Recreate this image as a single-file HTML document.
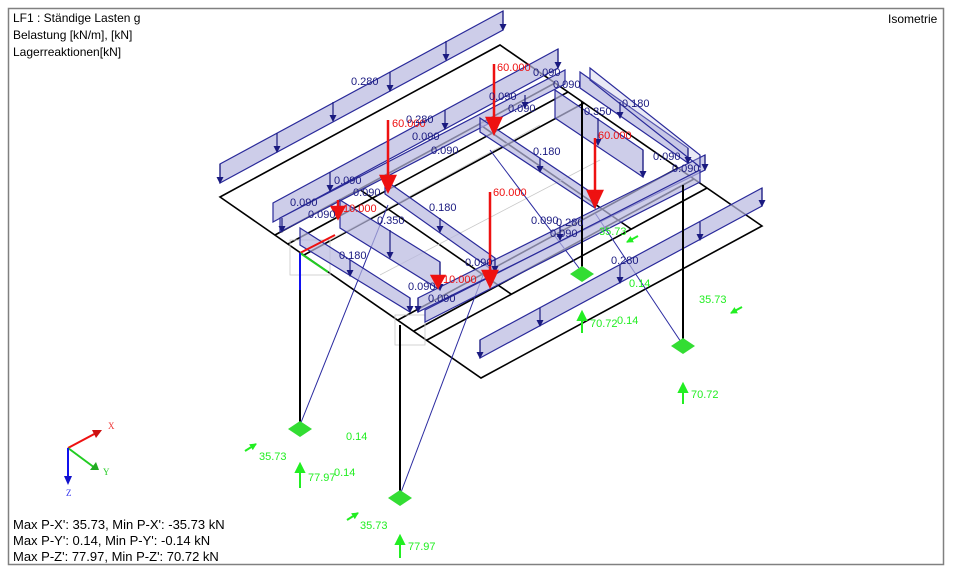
<!DOCTYPE html>
<html><head><meta charset="utf-8"><style>
html,body{margin:0;padding:0;background:#fff;width:956px;height:572px;overflow:hidden}
svg{display:block}
.t{font-family:"Liberation Sans",sans-serif}
</style></head><body>
<svg width="956" height="572" viewBox="0 0 956 572" xmlns="http://www.w3.org/2000/svg">
<defs>
<marker id="ab" markerWidth="7" markerHeight="7" refX="6" refY="3.5" orient="auto" markerUnits="userSpaceOnUse"><path d="M0,0 L7,3.5 L0,7 z" fill="#1a1a80"/></marker>
<marker id="ag" markerWidth="7" markerHeight="7" refX="6" refY="3.5" orient="auto" markerUnits="userSpaceOnUse"><path d="M0,0 L7,3.5 L0,7 z" fill="#22ee22"/></marker>
</defs>
<rect x="0" y="0" width="956" height="572" fill="#fff"/>
<rect x="8.5" y="8.5" width="935" height="556" fill="#fff" stroke="#808080" stroke-width="1.5"/>

<g stroke="#000" stroke-width="1.6" fill="none">
<polygon points="220,197 500,45 762,226 481,378"/>
<line x1="275" y1="235" x2="555" y2="83"/>
<line x1="288" y1="244" x2="568" y2="92"/>
<line x1="304" y1="255" x2="584" y2="103"/>
<line x1="398" y1="320" x2="678" y2="168"/>
<line x1="414" y1="331" x2="694" y2="179"/>
<line x1="427" y1="340" x2="707" y2="188"/>
<line x1="359" y1="189" x2="511" y2="294"/>
<line x1="479" y1="124" x2="631" y2="229"/>
</g>
<g stroke="#c8c8c8" stroke-width="0.8" fill="none">
<line x1="330" y1="240" x2="540" y2="125"/>
<line x1="380" y1="275" x2="600" y2="160"/>
<rect x="290" y="240" width="40" height="35"/>
<rect x="395" y="315" width="30" height="30"/>
</g>

<g stroke="#2a2aa0" stroke-width="1" fill="none">
<line x1="388" y1="205" x2="300" y2="425"/>
<line x1="485" y1="270" x2="400" y2="495"/>
<line x1="490" y1="150" x2="582" y2="272"/>
<line x1="595" y1="213" x2="683" y2="345"/>
</g>

<g fill="#b8b8e0" fill-opacity="0.7" stroke="#2a2a9a" stroke-width="1.2">
<polygon points="220,183 220,164 503,11 503,30"/>
<polygon points="273,222 273,203 558,49 558,68"/>
<polygon points="280,232 280,218 565,70 565,84"/>
<polygon points="580,72 688,148 688,163 580,88"/>
<polygon points="555,90 643,150 643,177 555,118"/>
<polygon points="480,118 595,195 595,208 480,132"/>
<polygon points="385,180 495,258 495,272 385,194"/>
<polygon points="340,200 440,262 440,290 340,228"/>
<polygon points="300,228 410,298 410,312 300,245"/>
<polygon points="418,312 418,298 705,155 705,170"/>
<polygon points="425,322 425,310 700,170 700,182"/>
<polygon points="480,358 480,340 762,188 762,206"/>
<polygon points="590,80 590,68 700,155 700,167" fill-opacity="0.3"/>
</g>
<g stroke="#1a1a80" stroke-width="1.2" marker-end="url(#ab)">
<line x1="220" y1="164" x2="220" y2="183"/><line x1="277" y1="133" x2="277" y2="152"/><line x1="333" y1="102" x2="333" y2="121"/><line x1="390" y1="72" x2="390" y2="91"/><line x1="446" y1="41" x2="446" y2="60"/><line x1="503" y1="11" x2="503" y2="30"/>
<line x1="330" y1="172" x2="330" y2="191"/><line x1="445" y1="110" x2="445" y2="129"/><line x1="558" y1="49" x2="558" y2="68"/>
<line x1="282" y1="218" x2="282" y2="232"/><line x1="525" y1="95" x2="525" y2="108"/>
<line x1="620" y1="102" x2="620" y2="118"/><line x1="688" y1="148" x2="688" y2="163"/>
<line x1="598" y1="118" x2="598" y2="145"/><line x1="643" y1="150" x2="643" y2="177"/>
<line x1="540" y1="158" x2="540" y2="172"/><line x1="595" y1="195" x2="595" y2="208"/>
<line x1="440" y1="218" x2="440" y2="232"/><line x1="495" y1="258" x2="495" y2="272"/>
<line x1="390" y1="230" x2="390" y2="258"/><line x1="440" y1="262" x2="440" y2="290"/>
<line x1="350" y1="260" x2="350" y2="276"/><line x1="410" y1="298" x2="410" y2="312"/>
<line x1="418" y1="298" x2="418" y2="312"/><line x1="560" y1="225" x2="560" y2="240"/><line x1="705" y1="155" x2="705" y2="170"/>
<line x1="480" y1="340" x2="480" y2="358"/><line x1="540" y1="308" x2="540" y2="326"/><line x1="620" y1="265" x2="620" y2="283"/><line x1="700" y1="222" x2="700" y2="240"/><line x1="762" y1="188" x2="762" y2="206"/>
</g>

<g stroke="#000" stroke-width="2">
<line x1="300" y1="255" x2="300" y2="425"/>
<line x1="400" y1="325" x2="400" y2="495"/>
<line x1="582" y1="102" x2="582" y2="272"/>
<line x1="683" y1="185" x2="683" y2="345"/>
</g>
<g fill="#33dd33">
<polygon points="300,421 312,429 300,437 288,429"/>
<polygon points="400,490 412,498 400,506 388,498"/>
<polygon points="582,266 594,274 582,282 570,274"/>
<polygon points="683,338 695,346 683,354 671,346"/>
</g>

<g stroke="#ee1111" stroke-width="2.5" fill="#ee1111">
<line x1="388" y1="120" x2="388" y2="178"/><polygon points="381,176 395,176 388,191"/>
<line x1="494" y1="64" x2="494" y2="120"/><polygon points="487,118 501,118 494,133"/>
<line x1="595" y1="138" x2="595" y2="193"/><polygon points="588,191 602,191 595,206"/>
<line x1="490" y1="192" x2="490" y2="273"/><polygon points="483,271 497,271 490,286"/>
<line x1="338" y1="200" x2="338" y2="208"/><polygon points="332,207 344,207 338,218"/>
<polygon points="432,276 444,276 438,287"/>
</g>
<g class="t" font-size="11" fill="#ee1111">
<text x="497" y="71">60.000</text><text x="392" y="127">60.000</text>
<text x="598" y="139">60.000</text><text x="493" y="196">60.000</text>
<text x="343" y="212">10.000</text><text x="443" y="283">10.000</text>
</g>

<g class="t" font-size="11" fill="#1a1a80">
<text x="351" y="85">0.280</text><text x="406" y="123">0.280</text>
<text x="533" y="76">0.090</text><text x="553" y="88">0.090</text>
<text x="489" y="100">0.090</text><text x="508" y="112">0.090</text>
<text x="412" y="140">0.090</text><text x="431" y="154">0.090</text>
<text x="622" y="107">0.180</text><text x="584" y="115">0.350</text>
<text x="533" y="155">0.180</text><text x="653" y="160">0.090</text><text x="672" y="172">0.090</text>
<text x="334" y="184">0.090</text><text x="290" y="206">0.090</text><text x="353" y="196">0.090</text><text x="308" y="218">0.090</text>
<text x="429" y="211">0.180</text><text x="377" y="224">0.350</text><text x="339" y="259">0.180</text>
<text x="531" y="224">0.090</text><text x="556" y="226">0.280</text><text x="550" y="237">0.090</text>
<text x="465" y="266">0.090</text><text x="408" y="290">0.090</text><text x="428" y="302">0.090</text>
<text x="611" y="264">0.280</text>
</g>

<g stroke-width="2">
<line x1="300" y1="253" x2="335" y2="235" stroke="#ee1111"/>
<line x1="300" y1="253" x2="328" y2="272" stroke="#22cc22"/>
<line x1="300" y1="253" x2="300" y2="290" stroke="#1111ee"/>
</g>

<g stroke="#22ee22" stroke-width="2" fill="#22ee22">
<line x1="300" y1="488" x2="300" y2="470"/><polygon points="296,472 304,472 300,464"/>
<line x1="400" y1="558" x2="400" y2="542"/><polygon points="396,544 404,544 400,536"/>
<line x1="582" y1="333" x2="582" y2="318"/><polygon points="578,320 586,320 582,312"/>
<line x1="683" y1="404" x2="683" y2="390"/><polygon points="679,392 687,392 683,384"/>
</g>
<g stroke="#22ee22" stroke-width="2" marker-end="url(#ag)">
<line x1="245" y1="451" x2="256" y2="444"/><line x1="347" y1="520" x2="358" y2="513"/>
<line x1="638" y1="236" x2="627" y2="242"/><line x1="742" y1="307" x2="731" y2="313"/>
</g>
<g class="t" font-size="11" fill="#22ee22">
<text x="308" y="481">77.97</text><text x="334" y="476">0.14</text><text x="346" y="440">0.14</text>
<text x="259" y="460">35.73</text><text x="360" y="529">35.73</text><text x="408" y="550">77.97</text>
<text x="590" y="327">70.72</text><text x="617" y="324">0.14</text><text x="629" y="287">0.14</text>
<text x="599" y="235">35.73</text><text x="699" y="303">35.73</text><text x="691" y="398">70.72</text>
</g>

<g stroke-width="2">
<line x1="68" y1="448" x2="98" y2="432" stroke="#ee1111"/>
<line x1="68" y1="448" x2="95" y2="468" stroke="#22cc22"/>
<line x1="68" y1="448" x2="68" y2="480" stroke="#1111ee"/>
</g>
<polygon points="92,430 102,430 96,438" fill="#cc1111"/>
<polygon points="90,470 99,470 96,462" fill="#22aa22"/>
<polygon points="64,476 72,476 68,485" fill="#1111cc"/>
<g font-family="Liberation Serif,serif" font-size="9">
<text x="108" y="429" fill="#ee3333">X</text><text x="103" y="475" fill="#22cc22">Y</text><text x="66" y="496" fill="#3333ee">Z</text>
</g>

<g class="t" font-size="12" fill="#000">
<text x="13" y="22">LF1 : Ständige Lasten g</text>
<text x="13" y="39">Belastung [kN/m], [kN]</text>
<text x="13" y="56">Lagerreaktionen[kN]</text>
<text x="888" y="23">Isometrie</text>
</g>
<g class="t" font-size="13" fill="#000">
<text x="13" y="529">Max P-X': 35.73, Min P-X': -35.73 kN</text>
<text x="13" y="545">Max P-Y': 0.14, Min P-Y': -0.14 kN</text>
<text x="13" y="561">Max P-Z': 77.97, Min P-Z': 70.72 kN</text>
</g>
</svg>
</body></html>
